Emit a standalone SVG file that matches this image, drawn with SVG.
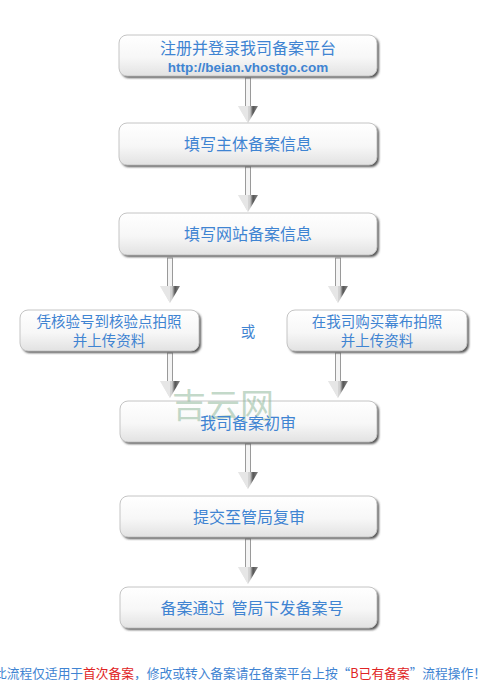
<svg xmlns="http://www.w3.org/2000/svg" width="488" height="680" viewBox="0 0 488 680">
<defs>
<linearGradient id="bg" x1="0" y1="0" x2="0" y2="1">
<stop offset="0" stop-color="#ffffff"/>
<stop offset="0.55" stop-color="#f7f7f7"/>
<stop offset="1" stop-color="#e2e2e2"/>
</linearGradient>
<linearGradient id="hg" x1="0" y1="0" x2="1" y2="0">
<stop offset="0" stop-color="#f2f2f2"/>
<stop offset="0.6" stop-color="#d0d0d0"/>
<stop offset="0.75" stop-color="#555"/>
<stop offset="1" stop-color="#888"/>
</linearGradient>
<filter id="sh" x="-10%" y="-20%" width="120%" height="150%">
<feGaussianBlur stdDeviation="1"/>
</filter>
<g id="arrow">
<rect x="-2.5" y="0" width="5" height="30" fill="#f4f4f4" stroke="#9a9a9a" stroke-width="1"/>
<polygon points="-10,28 10,28 0,45" fill="url(#hg)"/>
<polygon points="-10,28 0,28 0,45" fill="#e6e6e6"/>
</g>
</defs>
<style>
.box{fill:url(#bg);stroke:#c4c4c4;stroke-width:1}
.shd{fill:#555;filter:url(#sh)}
.t{font-family:"Noto Sans CJK SC","Noto Sans",sans-serif;fill:#3f84d2;text-anchor:middle}
.m{font-size:16px}
.s{font-size:14.5px}
.url{font-family:"Liberation Sans",Arial,sans-serif;font-weight:bold;font-size:13.5px;fill:#3f84d2;text-anchor:middle}
.red{fill:#e02424}
</style>
<rect width="488" height="680" fill="#ffffff"/>

<g id="connectors">
<use href="#arrow" x="248" y="78"/>
<use href="#arrow" x="248" y="167"/>
<use href="#arrow" x="170" y="258"/>
<use href="#arrow" x="338" y="258"/>
<use href="#arrow" x="170" y="353"/>
<use href="#arrow" x="338" y="353"/>
<use href="#arrow" x="248" y="444"/>
<use href="#arrow" x="248" y="539"/>
</g>

<g id="n1">
<rect class="shd" x="121" y="37" width="258" height="41" rx="8"/>
<rect class="box" x="119" y="35" width="258" height="41" rx="8"/>
<text class="t m" x="248" y="54">注册并登录我司备案平台</text>
<text class="url" x="248" y="72">http://beian.vhostgo.com</text>
</g>
<g id="n2">
<rect class="shd" x="121" y="125" width="258" height="42" rx="8"/>
<rect class="box" x="119" y="123" width="258" height="42" rx="8"/>
<text class="t m" x="248" y="150">填写主体备案信息</text>
</g>
<g id="n3">
<rect class="shd" x="121" y="215" width="258" height="42" rx="8"/>
<rect class="box" x="119" y="213" width="258" height="42" rx="8"/>
<text class="t m" x="248" y="240">填写网站备案信息</text>
</g>
<g id="n4">
<rect class="shd" x="22" y="312" width="179" height="41" rx="8"/>
<rect class="box" x="20" y="310" width="179" height="41" rx="8"/>
<text class="t s" x="109" y="327">凭核验号到核验点拍照</text>
<text class="t s" x="109" y="346">并上传资料</text>
</g>
<g id="or">
<text class="t s" x="248" y="337">或</text>
</g>
<g id="n5">
<rect class="shd" x="289" y="312" width="180" height="41" rx="8"/>
<rect class="box" x="287" y="310" width="180" height="41" rx="8"/>
<text class="t s" x="377" y="327">在我司购买幕布拍照</text>
<text class="t s" x="377" y="346">并上传资料</text>
</g>
<g id="n6">
<rect class="shd" x="122" y="403" width="257" height="41" rx="8"/>
<rect class="box" x="120" y="401" width="257" height="41" rx="8"/>
<text x="223" y="418" font-family="Noto Sans CJK SC,sans-serif" font-size="34" fill="#8fb89a" fill-opacity="0.55" text-anchor="middle">吉云网</text>
<text class="t m" x="248" y="429">我司备案初审</text>
</g>
<g id="n7">
<rect class="shd" x="122" y="498" width="257" height="41" rx="8"/>
<rect class="box" x="120" y="496" width="257" height="41" rx="8"/>
<text class="t m" x="249" y="523">提交至管局复审</text>
</g>
<g id="n8">
<rect class="shd" x="122" y="589" width="257" height="41" rx="8"/>
<rect class="box" x="120" y="587" width="257" height="41" rx="8"/>
<text class="t m" x="252" y="614" xml:space="preserve">备案通过  管局下发备案号</text>
</g>
<g id="note">
<text x="-6" y="678" font-family="Noto Sans CJK SC,sans-serif" font-size="13" textLength="492" lengthAdjust="spacingAndGlyphs" fill="#3f84d2">此流程仅适用于<tspan class="red">首次备案</tspan>，修改或转入备案请在备案平台上按“<tspan class="red">B已有备案</tspan>”流程操作！</text>
</g>
</svg>
